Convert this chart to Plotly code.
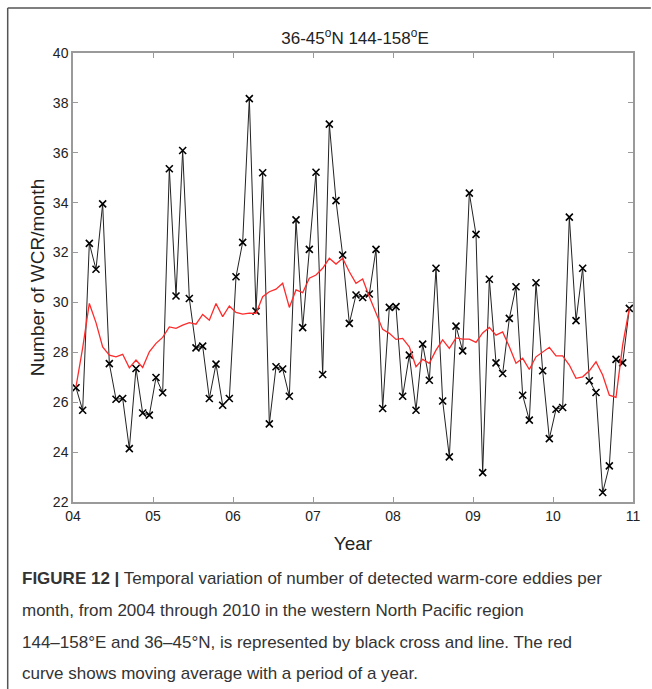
import plotly.graph_objects as go

# Monthly counts Jan 2004 - Dec 2010
wcr_count = [
    26.58, 25.68, 32.37, 31.33, 33.95, 27.55, 26.12, 26.15, 24.14, 27.35, 25.57, 25.48,
    26.99, 26.38, 35.36, 30.26, 36.09, 30.16, 28.18, 28.25, 26.15, 27.53, 25.88, 26.15,
    31.03, 32.41, 38.17, 29.65, 35.20, 25.13, 27.42, 27.33, 26.24, 33.31, 28.99, 32.13,
    35.22, 27.11, 37.15, 34.08, 31.90, 29.16, 30.30, 30.20, 30.34, 32.13, 25.75, 29.80,
    29.83, 26.24, 27.89, 25.68, 28.33, 26.88, 31.37, 26.05, 23.81, 29.05, 28.06, 34.38,
    32.73, 23.18, 30.93, 27.58, 27.15, 29.36, 30.63, 26.28, 25.28, 30.79, 27.26, 24.54,
    25.72, 25.79, 33.42, 29.27, 31.37, 26.86, 26.39, 22.38, 23.45, 27.72, 27.58, 29.76,
]

# Red moving-average curve
moving_avg = [
    26.62, 28.18, 29.96, 29.19, 28.22, 27.89, 27.82, 27.92, 27.38, 27.69, 27.39, 28.02,
    28.36, 28.60, 29.02, 28.96, 29.09, 29.19, 29.13, 29.52, 29.29, 29.96, 29.43, 29.86,
    29.60, 29.53, 29.57, 29.56, 30.23, 30.43, 30.53, 30.77, 29.80, 30.50, 30.39, 30.97,
    31.10, 31.37, 31.77, 31.54, 31.77, 31.23, 30.77, 30.94, 30.23, 29.56, 28.92, 28.76,
    28.52, 28.56, 28.22, 27.42, 27.72, 27.56, 28.09, 28.50, 28.16, 28.58, 28.53, 28.53,
    28.40, 28.78, 29.00, 28.69, 28.82, 28.22, 27.56, 27.76, 27.31, 27.82, 28.00, 28.20,
    27.86, 27.86, 27.49, 26.96, 27.02, 27.26, 27.62, 27.09, 26.28, 26.19, 28.30, 29.76,
]

start_year = 2004
month_index = list(range(len(wcr_count)))
x_time = [start_year + (m + 0.45) / 12 for m in month_index]

year_ticks = [2004, 2005, 2006, 2007, 2008, 2009, 2010, 2011]
year_labels = ["04", "05", "06", "07", "08", "09", "10", "11"]
y_ticks = [22, 24, 26, 28, 30, 32, 34, 36, 38, 40]

caption_lines = [
    "<b>FIGURE 12 |</b> Temporal variation of number of detected warm-core eddies per",
    "month, from 2004 through 2010 in the western North Pacific region",
    "144\u2013158\u00b0E and 36\u201345\u00b0N, is represented by black cross and line. The red",
    "curve shows moving average with a period of a year.",
]

FONT = "Liberation Sans, Arial, sans-serif"

fig = go.Figure()
fig.add_trace(go.Scatter(
    x=x_time, y=wcr_count, mode="lines+markers",
    line=dict(color="#222222", width=1),
    marker=dict(symbol="x-thin", size=7, line=dict(color="black", width=1.6), color="black"),
    showlegend=False,
))
fig.add_trace(go.Scatter(
    x=x_time, y=moving_avg, mode="lines",
    line=dict(color="#ff2a2a", width=1.3),
    showlegend=False,
))

L, R, T, B = 73, 639, 53, 502
W, H = 652, 689
pw, ph = R - L, B - T

def px(xp):
    return (xp - L) / pw

def py(yp):
    return (B - yp) / ph

fig.update_layout(
    width=W, height=H,
    margin=dict(l=L, r=W - R, t=T, b=H - B, pad=0),
    paper_bgcolor="white", plot_bgcolor="white",
    font=dict(family=FONT, color="#222222"),
    title=dict(text="36-45<sup>o</sup>N 144-158<sup>o</sup>E", x=(355) / W, xanchor="center",
               y=1 - 38 / H, yanchor="middle", font=dict(size=17, color="#222222")),
)
fig.update_xaxes(
    range=[2004, 2011], tickvals=year_ticks, ticktext=year_labels,
    showgrid=False, zeroline=False, showline=True, mirror="ticks",
    linecolor="#9a9a9a", linewidth=1.5, ticks="inside", ticklen=5, tickcolor="#9a9a9a",
    tickwidth=1, tickfont=dict(size=14, color="#222222"),
    title=dict(text="Year", font=dict(size=19, color="#222222"), standoff=14),
)
fig.update_yaxes(
    range=[22, 40], tickvals=y_ticks,
    showgrid=False, zeroline=False, showline=True, mirror="ticks",
    linecolor="#9a9a9a", linewidth=1.5, ticks="inside", ticklen=5, tickcolor="#9a9a9a",
    tickwidth=1, tickfont=dict(size=14, color="#222222"),
    title=dict(text="Number of WCR/month", font=dict(size=19, color="#222222"), standoff=3),
)

# outer figure frame (top and left edges)
fig.add_shape(type="line", xref="paper", yref="paper",
              x0=px(7), y0=py(8), x1=px(W + 5), y1=py(8),
              line=dict(color="#555555", width=1.5))
fig.add_shape(type="line", xref="paper", yref="paper",
              x0=px(7), y0=py(8), x1=px(7), y1=py(H + 5),
              line=dict(color="#555555", width=1.5))

cap_y = [578, 610, 642, 673]
for txt, yy in zip(caption_lines, cap_y):
    fig.add_annotation(text=txt, xref="paper", yref="paper", x=px(19), y=py(yy),
                       xanchor="left", yanchor="middle", showarrow=False,
                       font=dict(size=17, color="#333333", family=FONT))

fig.write_html("out.html")
